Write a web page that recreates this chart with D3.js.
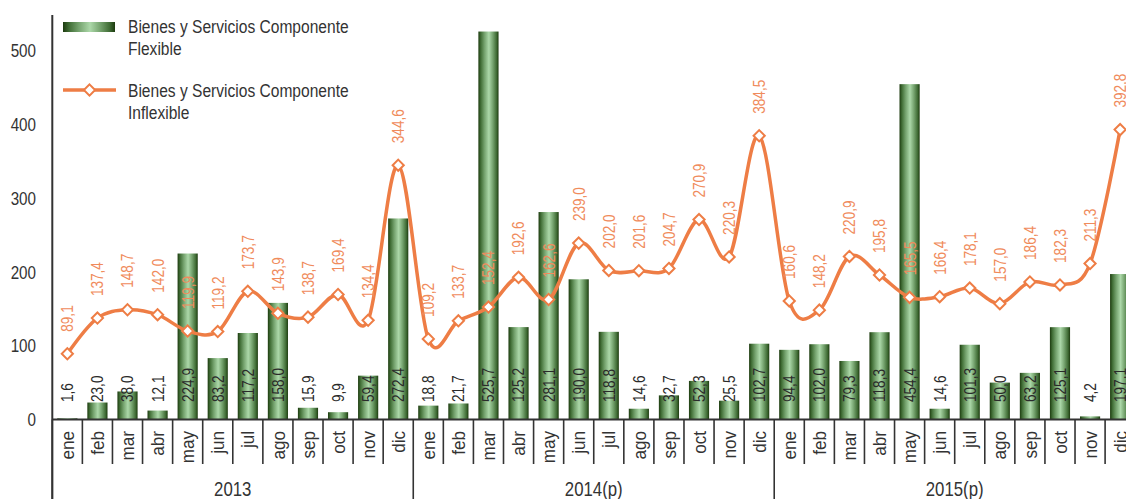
<!DOCTYPE html>
<html>
<head>
<meta charset="utf-8">
<script src="https://cdn.jsdelivr.net/npm/d3@7"></script>
<style>
  html, body { margin: 0; padding: 0; background: #fff; }
  svg { display: block; }
  text { font-family: "Liberation Sans", Arial, sans-serif; }
</style>
</head>
<body>
<svg id="chart" width="1126" height="499"></svg>
<script>
const years = ["2013", "2014(p)", "2015(p)"];
const months = ["ene","feb","mar","abr","may","jun","jul","ago","sep","oct","nov","dic"];
const flexible = [
  1.6, 23.0, 38.0, 12.1, 224.9, 83.2, 117.2, 158.0, 15.9, 9.9, 59.4, 272.4,
  18.8, 21.7, 525.7, 125.2, 281.1, 190.0, 118.8, 14.6, 32.7, 52.3, 25.5, 102.7,
  94.4, 102.0, 79.3, 118.3, 454.4, 14.6, 101.3, 50.0, 63.2, 125.1, 4.2, 197.1
];
const inflexible = [
  89.1, 137.4, 148.7, 142.0, 119.9, 119.2, 173.7, 143.9, 138.7, 169.4, 134.4, 344.6,
  109.2, 133.7, 152.4, 192.6, 162.6, 239.0, 202.0, 201.6, 204.7, 270.9, 220.3, 384.5,
  160.6, 148.2, 220.9, 195.8, 165.5, 166.4, 178.1, 157.0, 186.4, 182.3, 211.3, 392.8
];
const yTicks = [0, 100, 200, 300, 400, 500];
const seriesNames = ["Bienes y Servicios Componente|Flexible", "Bienes y Servicios Componente|Inflexible"];

const keys = [];
years.forEach(y => months.forEach(m => keys.push(y + "|" + m)));
const data = keys.map((k, i) => ({ key: k, year: k.split("|")[0], month: k.split("|")[1], flex: flexible[i], inflex: inflexible[i] }));

const svg = d3.select("#chart");
const x0 = 52.3, x1 = 52.3 + 36 * 30.08;
const yBase = 419.5;
const x = d3.scaleBand().domain(keys).range([x0, x1]).paddingInner(0.33).paddingOuter(0.165);
const y = d3.scaleLinear().domain([0, 550]).range([yBase, 13.6]);
const fmt = v => d3.format(".1f")(v).replace(".", ",");
const orange = "#EE7D45";
const labelOrange = "#F08B5C";
const SX = 0.8; // horizontal condensing to mimic a narrow typeface

const defs = svg.append("defs");
const grad = defs.append("linearGradient").attr("id", "barGrad").attr("x1", 0).attr("x2", 1).attr("y1", 0).attr("y2", 0);
[[0, "#1c3a0e"], [0.12, "#416e36"], [0.3, "#74a26d"], [0.52, "#acd8a9"], [0.72, "#74a26d"], [0.9, "#3f6b34"], [1, "#1c3a0e"]]
  .forEach(([o, c]) => grad.append("stop").attr("offset", o).attr("stop-color", c));

// Bars
svg.append("g").selectAll("rect").data(data).join("rect")
  .attr("x", d => x(d.key)).attr("width", x.bandwidth())
  .attr("y", d => y(d.flex)).attr("height", d => yBase - y(d.flex))
  .attr("fill", "url(#barGrad)");

// Bar labels
svg.append("g").selectAll("text").data(data).join("text")
  .attr("transform", d => `translate(${x(d.key) + x.bandwidth() / 2},402) rotate(-90) scale(${SX},1)`)
  .attr("dy", "0.35em").attr("text-anchor", "start")
  .attr("font-size", 17).attr("fill", "#2a2a2a")
  .text(d => fmt(d.flex));

// Line
const line = d3.line().x(d => x(d.key) + x.bandwidth() / 2).y(d => y(d.inflex)).curve(d3.curveCardinal.tension(0));
svg.append("path").datum(data).attr("d", line).attr("fill", "none").attr("stroke", orange).attr("stroke-width", 3.5);

const diamond = d3.symbol().type(d3.symbolDiamond2).size(80);
svg.append("g").selectAll("path").data(data).join("path")
  .attr("d", diamond)
  .attr("transform", d => `translate(${x(d.key) + x.bandwidth() / 2},${y(d.inflex)})`)
  .attr("fill", "#fff").attr("stroke", orange).attr("stroke-width", 2);

// Line labels
svg.append("g").selectAll("text").data(data).join("text")
  .attr("transform", d => `translate(${x(d.key) + x.bandwidth() / 2},${y(d.inflex) - 22}) rotate(-90) scale(${SX},1)`)
  .attr("dy", "0.35em").attr("text-anchor", "start")
  .attr("font-size", 17).attr("fill", labelOrange)
  .text(d => fmt(d.inflex));

// Y axis labels
svg.append("g").selectAll("text").data(yTicks).join("text")
  .attr("transform", d => `translate(36,${y(d)}) scale(${SX},1)`)
  .attr("dy", "0.35em")
  .attr("text-anchor", "end").attr("font-size", 19).attr("fill", "#333")
  .text(d => d);

// Axes lines
const axisColor = "#333";
svg.append("line").attr("x1", x0).attr("x2", x0).attr("y1", 15).attr("y2", 499).attr("stroke", axisColor).attr("stroke-width", 2);
svg.append("line").attr("x1", x0).attr("x2", 1126).attr("y1", yBase).attr("y2", yBase).attr("stroke", axisColor).attr("stroke-width", 2);

// Month separators
const step = x.step();
const gap = (step - x.bandwidth()) / 2;
svg.append("g").selectAll("line").data(data).join("line")
  .attr("x1", d => x(d.key) - gap)
  .attr("x2", d => x(d.key) - gap)
  .attr("y1", yBase).attr("y2", (d, i) => i % 12 === 0 ? 499 : 464)
  .attr("stroke", axisColor).attr("stroke-width", 1.6);

// Month labels
svg.append("g").selectAll("text").data(data).join("text")
  .attr("transform", d => `translate(${x(d.key) + x.bandwidth() / 2},431) rotate(-90) scale(0.9,1)`)
  .attr("dy", "0.35em").attr("text-anchor", "end")
  .attr("font-size", 19).attr("fill", "#333")
  .text(d => d.month);

// Year labels
svg.append("g").selectAll("text").data(years).join("text")
  .attr("transform", yr => `translate(${x(yr + "|ene") - gap + step * 6},496) scale(0.84,1)`)
  .attr("text-anchor", "middle").attr("font-size", 20).attr("fill", "#333")
  .text(d => d);

// Legend
const lg = svg.append("g");
lg.append("rect").attr("x", 63).attr("y", 22).attr("width", 52).attr("height", 10).attr("fill", "url(#barGrad)");
lg.append("line").attr("x1", 63).attr("x2", 116).attr("y1", 90).attr("y2", 90).attr("stroke", orange).attr("stroke-width", 3.5);
lg.append("path").attr("d", diamond).attr("transform", "translate(89.5,90)").attr("fill", "#fff").attr("stroke", orange).attr("stroke-width", 2);
const legY = [33, 97];
seriesNames.forEach((s, i) => {
  const parts = s.split("|");
  const t = lg.append("text").attr("transform", `translate(128,${legY[i]}) scale(0.82,1)`)
    .attr("font-size", 19).attr("fill", "#333");
  parts.forEach((p, j) => t.append("tspan").attr("x", 0).attr("y", j === 0 ? 0 : 22).text(p));
});
</script>
</body>
</html>
